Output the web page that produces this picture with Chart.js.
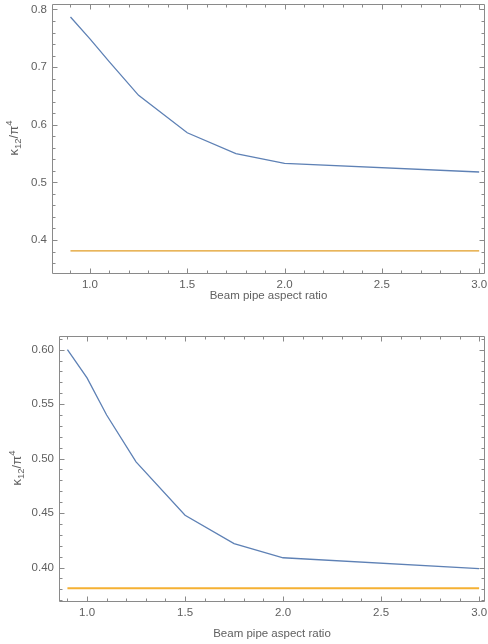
<!DOCTYPE html>
<html>
<head>
<meta charset="utf-8">
<script src="https://cdn.jsdelivr.net/npm/chart.js@4.4.0/dist/chart.umd.min.js"></script>
<style>
html, body { margin: 0; padding: 0; background: #fff; }
#topBox { position: absolute; left: 0; top: 0; width: 488px; height: 310px; }
#bottomBox { position: absolute; left: 0; top: 310px; width: 488px; height: 334px; }
</style>
</head>
<body>
<div id="topBox"><canvas id="topCanvas"></canvas></div>
<div id="bottomBox"><canvas id="bottomCanvas"></canvas></div>
<script>
// values
var aspectRatio = [0.9, 1.0, 1.1, 1.25, 1.5, 1.75, 2.0, 3.0];
var kappaTop = [0.787, 0.749, 0.709, 0.651, 0.586, 0.550, 0.533, 0.518];
var kappaBottom = [0.600, 0.574, 0.540, 0.497, 0.448, 0.422, 0.409, 0.399];
var refRatio = [0.9, 3.0];
var refKappa = [0.381, 0.381];

var xTickLabels = [1.0, 1.5, 2.0, 2.5, 3.0];
var yTicksTop = [0.4, 0.5, 0.6, 0.7, 0.8];
var yTicksBottom = [0.40, 0.45, 0.50, 0.55, 0.60];

var FONT = "'Liberation Sans', Arial, sans-serif";
var TEXT = '#606060';

function pts(xs, ys) {
    return xs.map(function (x, i) { return { x: x, y: ys[i] }; });
}

function steps(from, to, step) {
    var out = [];
    var n = Math.round((to - from) / step);
    for (var i = 0; i <= n; i++) out.push(+(from + i * step).toFixed(4));
    return out;
}

function onStep(v, step) {
    var k = v / step;
    return Math.abs(k - Math.round(k)) < 1e-6;
}

// frame with inward ticks on all four sides + the y label with sub/superscript
var framePlugin = {
    id: 'frame',
    afterDatasetsDraw: function (chart, args, opts) {
        var ctx = chart.ctx, a = chart.chartArea;
        var xs = chart.scales.x, ys = chart.scales.y;
        var L = Math.round(a.left) + 0.5, R = Math.round(a.right) - 0.5;
        var T = Math.round(a.top) + 0.5, B = Math.round(a.bottom) - 0.5;
        ctx.save();
        ctx.strokeStyle = '#8a8a8a';
        ctx.lineWidth = 1;
        ctx.beginPath();
        ctx.rect(L, T, R - L, B - T);
        opts.xMinor.forEach(function (v) {
            var px = Math.round(xs.getPixelForValue(v)) + 0.5;
            var len = onStep(v, opts.xMajorStep) ? 5 : 3;
            ctx.moveTo(px, B); ctx.lineTo(px, B - len);
            ctx.moveTo(px, T); ctx.lineTo(px, T + len);
        });
        opts.yMinor.forEach(function (v) {
            var py = Math.round(ys.getPixelForValue(v)) + 0.5;
            var len = onStep(v, opts.yMajorStep) ? 5 : 3;
            ctx.moveTo(L, py); ctx.lineTo(L + len, py);
            ctx.moveTo(R, py); ctx.lineTo(R - len, py);
        });
        ctx.stroke();

        // κ12/π4 rotated
        var parts = [
            { t: '\u03ba', size: 13, dy: 0 },
            { t: '12', size: 9.5, dy: 3 },
            { t: '/\u03c0', size: 13, dy: 0 },
            { t: '4', size: 9.5, dy: -6 }
        ];
        ctx.fillStyle = TEXT;
        ctx.textBaseline = 'alphabetic';
        ctx.textAlign = 'left';
        var total = 0;
        parts.forEach(function (p) {
            ctx.font = p.size + 'px ' + FONT;
            p.w = ctx.measureText(p.t).width;
            total += p.w;
        });
        ctx.translate(opts.titleX, (a.top + a.bottom) / 2 - 1);
        ctx.rotate(-Math.PI / 2);
        var cx = -total / 2;
        parts.forEach(function (p) {
            ctx.font = p.size + 'px ' + FONT;
            ctx.fillText(p.t, cx, p.dy);
            cx += p.w;
        });
        ctx.restore();
    }
};

function makeChart(id, cfg) {
    return new Chart(document.getElementById(id), {
        type: 'scatter',
        data: {
            datasets: [{
                data: pts(aspectRatio, cfg.kappa),
                showLine: true,
                borderColor: '#5e81b5',
                borderWidth: 1.3,
                pointRadius: 0,
                tension: 0
            }, {
                data: pts(refRatio, refKappa),
                showLine: true,
                borderColor: cfg.refColor,
                borderWidth: cfg.refWidth,
                pointRadius: 0,
                tension: 0
            }]
        },
        plugins: [framePlugin],
        options: {
            animation: false,
            responsive: true,
            maintainAspectRatio: false,
            layout: { padding: { top: cfg.padTop, right: 3, left: 0, bottom: 0 } },
            plugins: {
                legend: { display: false },
                tooltip: { enabled: false },
                frame: {
                    xMinor: steps(0.9, 3.0, 0.1),
                    xMajorStep: 0.5,
                    yMinor: cfg.yMinor,
                    yMajorStep: cfg.yMajorStep,
                    titleX: cfg.titleX
                }
            },
            scales: {
                x: {
                    type: 'linear',
                    min: cfg.xMin,
                    max: 3.03,
                    grid: { display: false, drawTicks: false },
                    border: { display: false },
                    afterBuildTicks: function (s) {
                        s.ticks = xTickLabels.map(function (v) { return { value: v }; });
                    },
                    ticks: {
                        padding: 4,
                        color: TEXT,
                        autoSkip: false,
                        maxRotation: 0,
                        font: { family: FONT, size: 11.5 },
                        callback: function (v) { return Number(v).toFixed(1); }
                    },
                    title: {
                        display: true,
                        text: 'Beam pipe aspect ratio',
                        color: TEXT,
                        font: { family: FONT, size: 11.5 },
                        padding: { top: 0, bottom: cfg.titlePad }
                    },
                    afterFit: function (s) {
                        s.height = cfg.xHeight;
                        s.paddingLeft = 0;
                        s.paddingRight = 0;
                    }
                },
                y: {
                    type: 'linear',
                    min: cfg.yMin,
                    max: cfg.yMax,
                    grid: { display: false, drawTicks: false },
                    border: { display: false },
                    afterBuildTicks: function (s) {
                        s.ticks = cfg.yTicks.map(function (v) { return { value: v }; });
                    },
                    ticks: {
                        padding: 5,
                        color: TEXT,
                        autoSkip: false,
                        font: { family: FONT, size: 11.5 },
                        callback: function (v) { return Number(v).toFixed(cfg.yDigits); }
                    },
                    afterFit: function (s) {
                        s.width = cfg.yWidth;
                        s.paddingTop = 0;
                        s.paddingBottom = 0;
                    }
                }
            }
        }
    });
}

var topChart = makeChart('topCanvas', {
    kappa: kappaTop, refColor: '#e19c24', refWidth: 1.3,
    padTop: 4, xHeight: 36, titlePad: 7, yWidth: 52, titleX: 17.5,
    xMin: 0.805, yMin: 0.341, yMax: 0.8095,
    yTicks: yTicksTop, yDigits: 1,
    yMinor: steps(0.36, 0.80, 0.02), yMajorStep: 0.1
});

var bottomChart = makeChart('bottomCanvas', {
    kappa: kappaBottom, refColor: '#f5b133', refWidth: 2,
    padTop: 26, xHeight: 42, titlePad: 3, yWidth: 59, titleX: 21,
    xMin: 0.857, yMin: 0.3684, yMax: 0.6125,
    yTicks: yTicksBottom, yDigits: 2,
    yMinor: steps(0.37, 0.61, 0.01), yMajorStep: 0.05
});
</script>
</body>
</html>
